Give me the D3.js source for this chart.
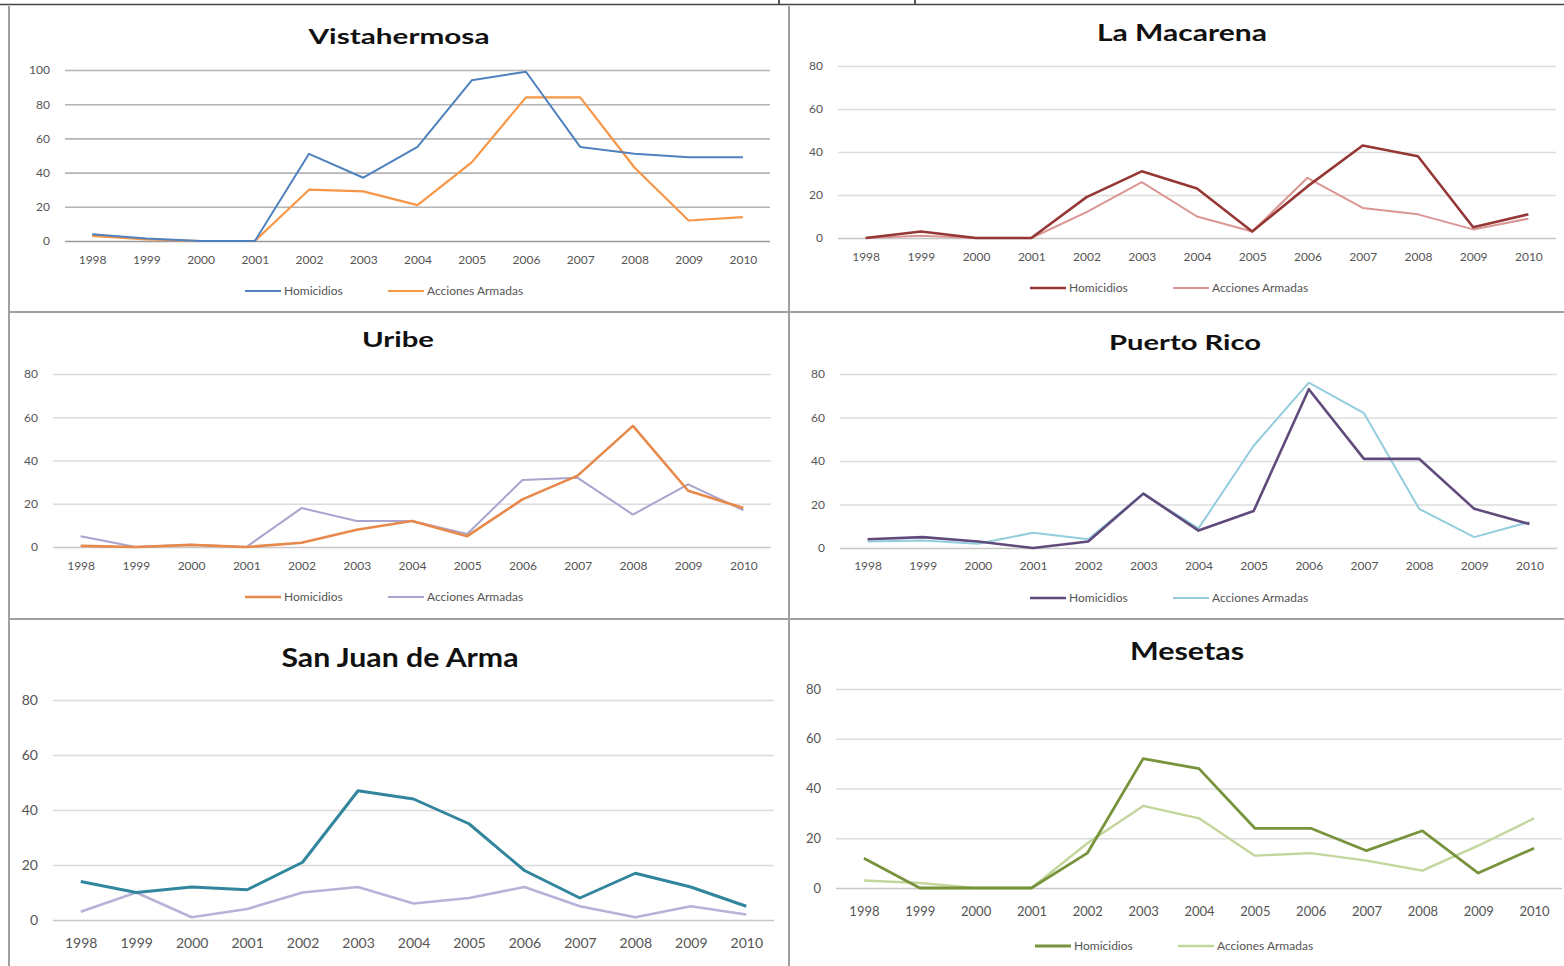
<!DOCTYPE html>
<meta charset="utf-8">
<script src="https://cdn.jsdelivr.net/npm/d3@7"></script>
<style>
  body { margin: 0; background: #fff; }
  svg { display: block; }
  .tick text { font-family: Lato, "Open Sans", sans-serif; fill: #555; }
  .legend text { font-family: Lato, "Open Sans", sans-serif; fill: #555; font-size: 12px; }
  .title { font-family: Lato, "Open Sans", sans-serif; font-weight: bold; fill: #111; }
</style>
<div id="my_dataviz"></div>
<script>

// categories and tick labels
var years = ["1998","1999","2000","2001","2002","2003","2004","2005","2006","2007","2008","2009","2010"];
var ticks100 = [0, 20, 40, 60, 80, 100];
var ticks80 = [0, 20, 40, 60, 80];
var seriesNames = ["Homicidios", "Acciones Armadas"];

// values, one pair of arrays per municipality
var vistaHom = [4, 1.5, 0, 0, 51, 37, 55, 94, 99, 55, 51, 49, 49];
var vistaAcc = [3, 1, 0, 0, 30, 29, 21, 46, 84, 84, 43, 12, 14];

var macaHom = [0, 3, 0, 0, 19, 31, 23, 3, 24, 43, 38, 5, 11];
var macaAcc = [0, 1, 0, 0, 12, 26, 10, 3, 28, 14, 11, 4, 9];

var uribeHom = [0.5, 0, 1, 0, 2, 8, 12, 5, 22, 33, 56, 26, 18];
var uribeAcc = [5, 0, 1, 0, 18, 12, 12, 6, 31, 32, 15, 29, 17];

var prHom = [4, 5, 3, 0, 3, 25, 8, 17, 73, 41, 41, 18, 11];
var prAcc = [3, 3.5, 2, 7, 4, 25, 9, 47, 76, 62, 18, 5, 12];

var sjHom = [14, 10, 12, 11, 21, 47, 44, 35, 18, 8, 17, 12, 5];
var sjAcc = [3, 10, 1, 4, 10, 12, 6, 8, 12, 5, 1, 5, 2];

var mesHom = [12, 0, 0, 0, 14, 52, 48, 24, 24, 15, 23, 6, 16];
var mesAcc = [3, 2, 0, 0, 18, 33, 28, 13, 14, 11, 7, 17, 28];

// panel layout
var panels = [
  {title: "Vistahermosa", hom: vistaHom, acc: vistaAcc, ticks: ticks100, max: 100,
   left: 65, right: 770, y0: 241, yTop: 70, xLab: 260, tick: 12, grid: "#b4b4b4", base: "#9a9a9a",
   tx: 399, ty: 44, tsize: 21, tlen: 181, legX: 245, legY: 291,
   colors: ["#4F81BD", "#F79646"], widths: [2, 2.2]},
  {title: "La Macarena", hom: macaHom, acc: macaAcc, ticks: ticks80, max: 80,
   left: 838, right: 1556, y0: 238, yTop: 66, xLab: 257, tick: 12, grid: "#dcdcdc", base: "#c8c8c8",
   tx: 1182, ty: 41, tsize: 22, tlen: 170, legX: 1030, legY: 288,
   colors: ["#953735", "#D99694"], widths: [2.6, 2]},
  {title: "Uribe", hom: uribeHom, acc: uribeAcc, ticks: ticks80, max: 80,
   left: 53, right: 771, y0: 547, yTop: 374, xLab: 566, tick: 12, grid: "#dcdcdc", base: "#c8c8c8",
   tx: 398, ty: 347, tsize: 21, tlen: 72, legX: 245, legY: 597,
   colors: ["#E6894A", "#A9A4CE"], widths: [2.6, 2]},
  {title: "Puerto Rico", hom: prHom, acc: prAcc, ticks: ticks80, max: 80,
   left: 840, right: 1557, y0: 548, yTop: 374, xLab: 566, tick: 12, grid: "#dcdcdc", base: "#c8c8c8",
   tx: 1185, ty: 350, tsize: 21, tlen: 152, legX: 1030, legY: 598,
   colors: ["#604A7B", "#93CDDD"], widths: [2.6, 2]},
  {title: "San Juan de Arma", hom: sjHom, acc: sjAcc, ticks: ticks80, max: 80,
   left: 53, right: 774, y0: 920, yTop: 700, xLab: 943, tick: 14, grid: "#dcdcdc", base: "#c8c8c8",
   tx: 400, ty: 667, tsize: 26, tlen: 237, legX: null, legY: null,
   colors: ["#31859C", "#B8B2D8"], widths: [3, 2.6]},
  {title: "Mesetas", hom: mesHom, acc: mesAcc, ticks: ticks80, max: 80,
   left: 836, right: 1562, y0: 888, yTop: 689, xLab: 911, tick: 13, grid: "#dcdcdc", base: "#c8c8c8",
   tx: 1187, ty: 660, tsize: 24, tlen: 114, legX: 1035, legY: 946,
   colors: ["#77933C", "#C3D69B"], widths: [2.8, 2.4]}
];

var W = 1564, H = 966;

var svg = d3.select("#my_dataviz")
  .append("svg")
  .attr("width", W)
  .attr("height", H);

// frame lines of the pasted charts
var frame = svg.append("g").attr("stroke", "#a0a0a0").attr("stroke-width", 2);
frame.append("line").attr("x1", 9).attr("x2", 9).attr("y1", 6).attr("y2", H);
frame.append("line").attr("x1", 789).attr("x2", 789).attr("y1", 6).attr("y2", H);
frame.append("line").attr("x1", 9).attr("x2", W).attr("y1", 312).attr("y2", 312);
frame.append("line").attr("x1", 9).attr("x2", W).attr("y1", 619).attr("y2", 619);

svg.append("line").attr("x1", 0).attr("x2", W).attr("y1", 4.5).attr("y2", 4.5)
  .attr("stroke", "#444").attr("stroke-width", 1.5);
// bits of cut-off text above the image
[779, 915].forEach(function (x) {
  svg.append("line").attr("x1", x).attr("x2", x).attr("y1", 0).attr("y2", 4)
    .attr("stroke", "#222").attr("stroke-width", 1.5);
});

panels.forEach(function (p) {
  var g = svg.append("g");

  var x = d3.scalePoint()
    .domain(years)
    .range([p.left, p.right])
    .padding(0.5);

  var y = d3.scaleLinear()
    .domain([0, p.max])
    .range([p.y0, p.yTop]);

  // Y axis with gridlines
  var yAxis = g.append("g")
    .attr("transform", "translate(" + p.left + ",0)")
    .call(d3.axisLeft(y).tickValues(p.ticks).tickSize(-(p.right - p.left)).tickPadding(15));
  yAxis.select(".domain").remove();
  yAxis.selectAll(".tick line")
    .attr("stroke", function (d) { return d === 0 ? p.base : p.grid; })
    .attr("stroke-width", 1.6);
  yAxis.selectAll(".tick text").style("font-size", p.tick + "px");

  // X axis labels
  var xAxis = g.append("g")
    .attr("transform", "translate(0," + p.y0 + ")")
    .call(d3.axisBottom(x).tickSize(0));
  xAxis.select(".domain").remove();
  xAxis.selectAll(".tick text")
    .attr("y", p.xLab - p.y0)
    .attr("dy", "0.35em")
    .style("font-size", p.tick + "px");

  // lines (Acciones first, Homicidios on top)
  var line = d3.line()
    .x(function (d, i) { return x(years[i]); })
    .y(function (d) { return y(d); });

  [p.acc, p.hom].forEach(function (vals, k) {
    var idx = 1 - k;
    g.append("path")
      .datum(vals)
      .attr("fill", "none")
      .attr("stroke", p.colors[idx])
      .attr("stroke-width", p.widths[idx])
      .attr("stroke-linejoin", "round")
      .attr("d", line);
  });

  // title
  g.append("text")
    .attr("class", "title")
    .attr("x", p.tx)
    .attr("y", p.ty)
    .attr("text-anchor", "middle")
    .style("font-size", p.tsize + "px")
    .attr("textLength", p.tlen)
    .attr("lengthAdjust", "spacingAndGlyphs")
    .text(p.title);

  // legend
  if (p.legX !== null) {
    var legend = g.append("g").attr("class", "legend")
      .selectAll("g")
      .data(seriesNames)
      .enter()
      .append("g")
      .attr("transform", function (d, i) {
        return "translate(" + (p.legX + i * 143) + "," + p.legY + ")";
      });
    legend.append("line")
      .attr("x1", 0).attr("x2", 36)
      .attr("stroke", function (d, i) { return p.colors[i]; })
      .attr("stroke-width", function (d, i) { return p.widths[i]; });
    legend.append("text")
      .attr("x", 39)
      .attr("dy", "0.35em")
      .text(function (d) { return d; });
  }
});
</script>
